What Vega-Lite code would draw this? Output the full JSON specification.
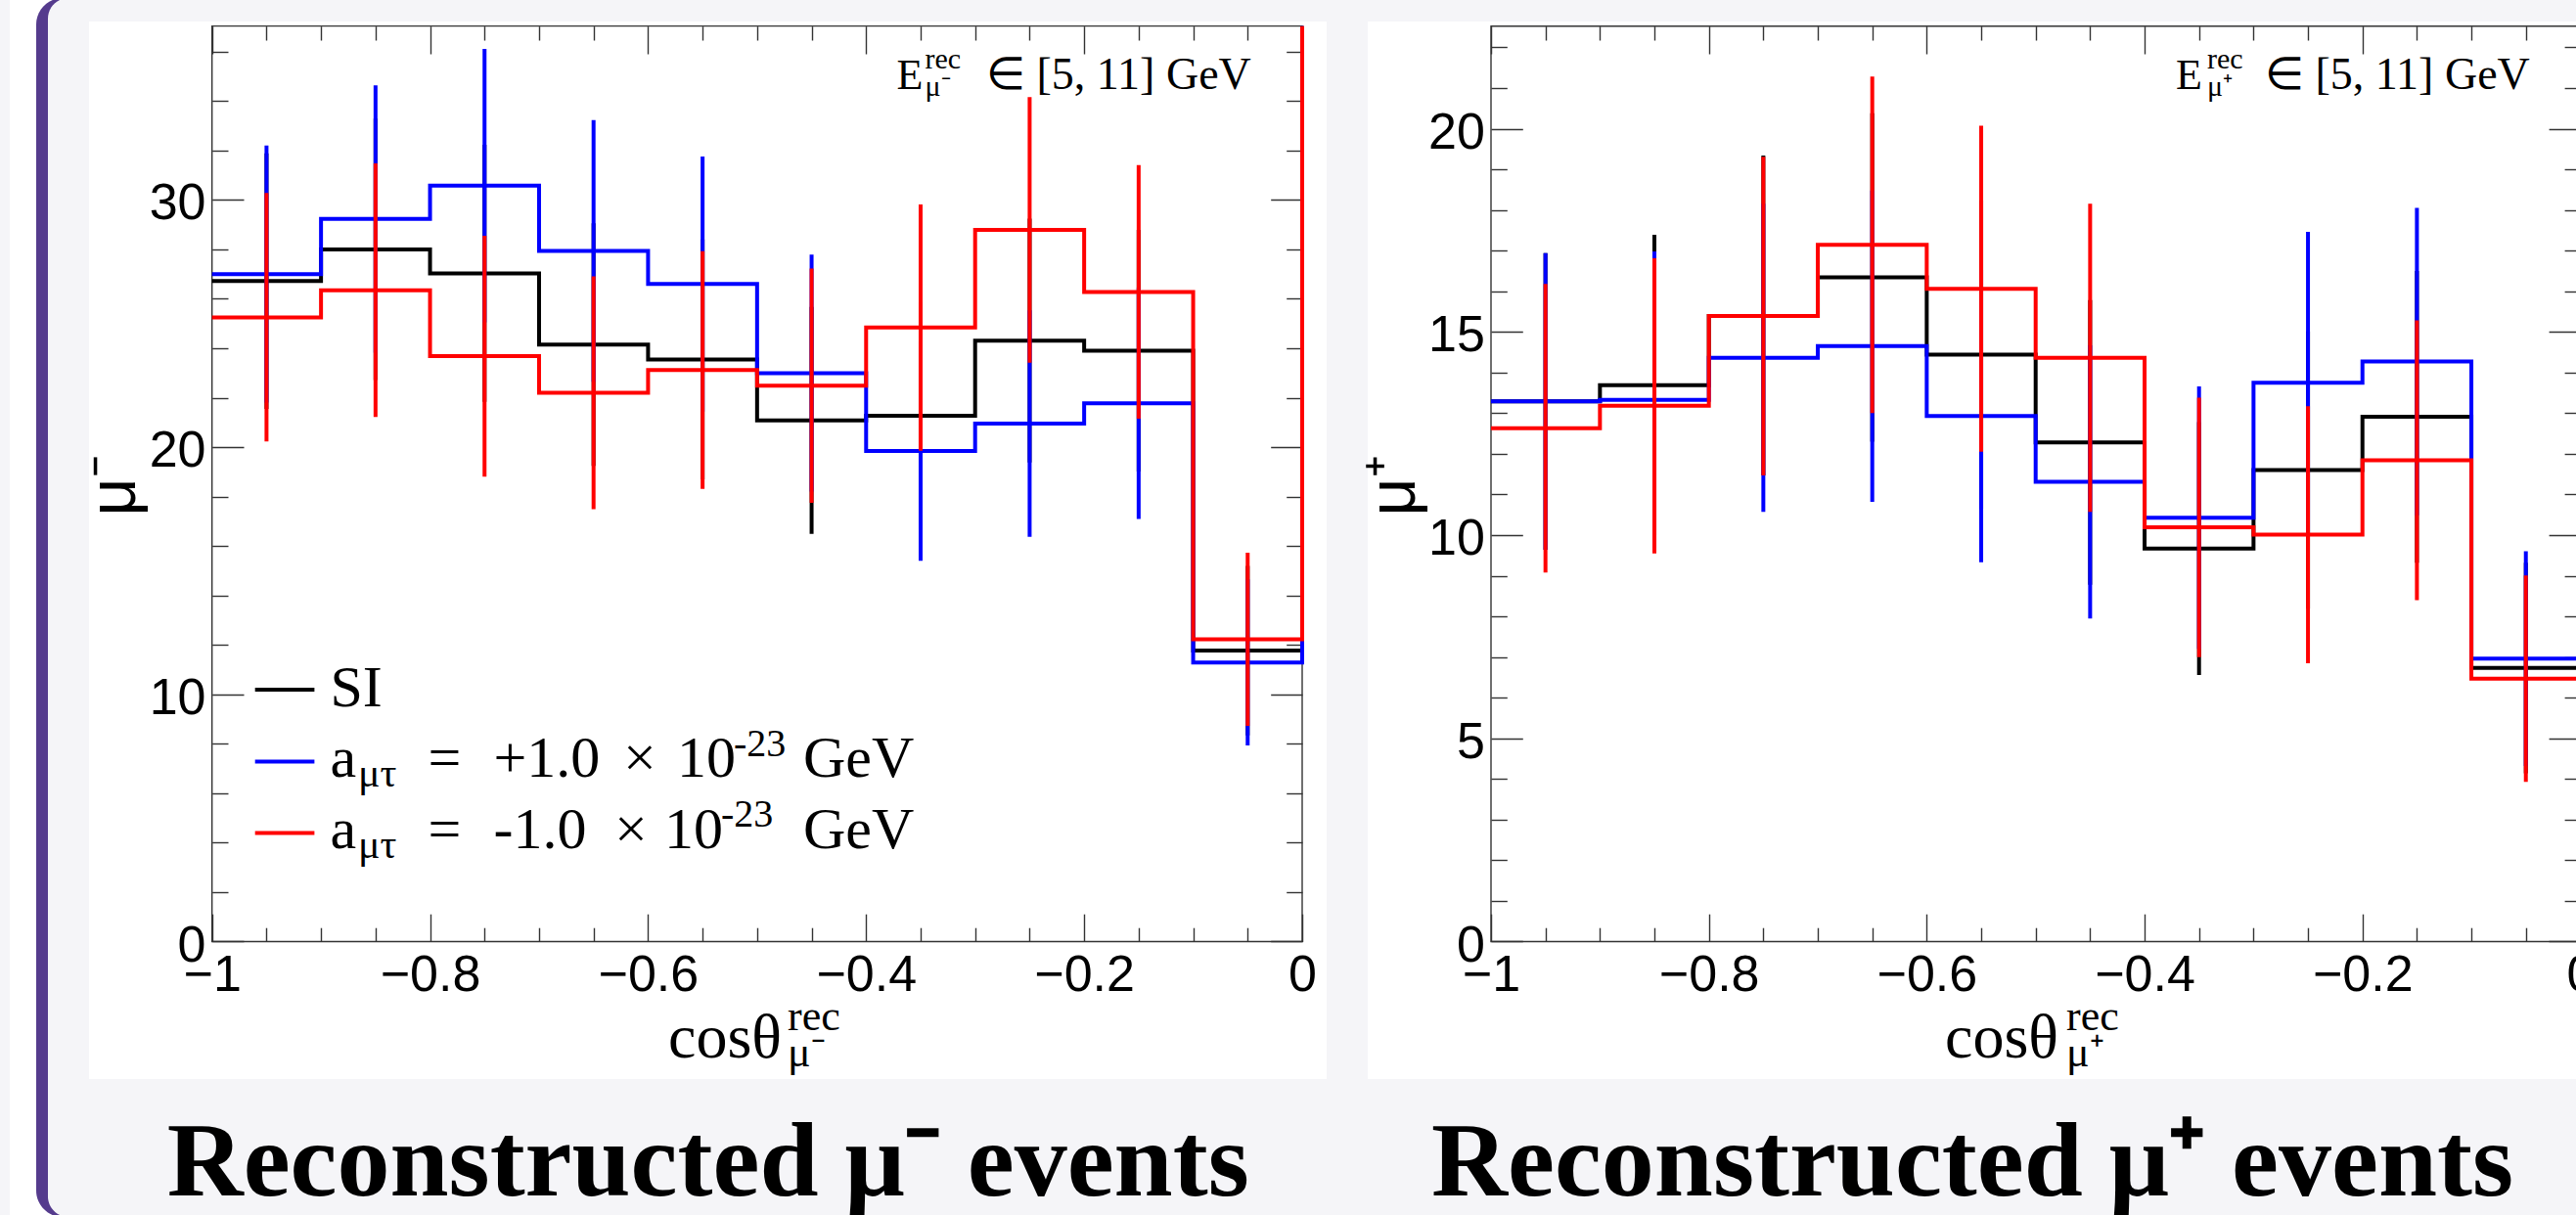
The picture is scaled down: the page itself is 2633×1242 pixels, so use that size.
{
"$schema": "https://vega.github.io/schema/vega-lite/v6.json",
"autosize": {"type": "none"},
"padding": {"left": 91, "top": 22, "right": 2542, "bottom": 1220},
"background": "#f5f5f8",
"spacing": 42,
"bounds": "flush",
"config": {"view": {"stroke": null, "fill": "#ffffff"}},
"datasets": {
"L": [
{"s":"SI","x0":-1,"xc":-0.95,"v":26.72,"lo":21.55,"hi":31.89},
{"s":"SI","x0":-0.9,"xc":-0.85,"v":28.0,"lo":22.71,"hi":33.29},
{"s":"SI","x0":-0.8,"xc":-0.75,"v":27.03,"lo":21.83,"hi":32.23},
{"s":"SI","x0":-0.7,"xc":-0.65,"v":24.15,"lo":19.24,"hi":29.06},
{"s":"SI","x0":-0.6,"xc":-0.55,"v":23.55,"lo":18.70,"hi":28.40},
{"s":"SI","x0":-0.5,"xc":-0.45,"v":21.08,"lo":16.49,"hi":25.67},
{"s":"SI","x0":-0.4,"xc":-0.35,"v":21.27,"lo":16.66,"hi":25.88},
{"s":"SI","x0":-0.3,"xc":-0.25,"v":24.31,"lo":19.38,"hi":29.24},
{"s":"SI","x0":-0.2,"xc":-0.15,"v":23.9,"lo":19.01,"hi":28.79},
{"s":"SI","x0":-0.1,"xc":-0.05,"v":11.77,"lo":8.34,"hi":15.20},
{"s":"SI","x0":0,"v":37.03},
{"s":"plus","x0":-1,"xc":-0.95,"v":27.0,"lo":21.80,"hi":32.20},
{"s":"plus","x0":-0.9,"xc":-0.85,"v":29.23,"lo":23.82,"hi":34.64},
{"s":"plus","x0":-0.8,"xc":-0.75,"v":30.58,"lo":25.05,"hi":36.11},
{"s":"plus","x0":-0.7,"xc":-0.65,"v":27.94,"lo":22.65,"hi":33.23},
{"s":"plus","x0":-0.6,"xc":-0.55,"v":26.6,"lo":21.44,"hi":31.76},
{"s":"plus","x0":-0.5,"xc":-0.45,"v":22.99,"lo":18.20,"hi":27.79},
{"s":"plus","x0":-0.4,"xc":-0.35,"v":19.85,"lo":15.40,"hi":24.31},
{"s":"plus","x0":-0.3,"xc":-0.25,"v":20.95,"lo":16.37,"hi":25.53},
{"s":"plus","x0":-0.2,"xc":-0.15,"v":21.77,"lo":17.10,"hi":26.44},
{"s":"plus","x0":-0.1,"xc":-0.05,"v":11.29,"lo":7.93,"hi":14.65},
{"s":"plus","x0":0,"v":37.03},
{"s":"minus","x0":-1,"xc":-0.95,"v":25.25,"lo":20.23,"hi":30.28},
{"s":"minus","x0":-0.9,"xc":-0.85,"v":26.35,"lo":21.22,"hi":31.48},
{"s":"minus","x0":-0.8,"xc":-0.75,"v":23.68,"lo":18.81,"hi":28.55},
{"s":"minus","x0":-0.7,"xc":-0.65,"v":22.2,"lo":17.49,"hi":26.91},
{"s":"minus","x0":-0.6,"xc":-0.55,"v":23.12,"lo":18.31,"hi":27.93},
{"s":"minus","x0":-0.5,"xc":-0.45,"v":22.49,"lo":17.75,"hi":27.23},
{"s":"minus","x0":-0.4,"xc":-0.35,"v":24.84,"lo":19.86,"hi":29.82},
{"s":"minus","x0":-0.3,"xc":-0.25,"v":28.79,"lo":23.42,"hi":34.16},
{"s":"minus","x0":-0.2,"xc":-0.15,"v":26.28,"lo":21.15,"hi":31.41},
{"s":"minus","x0":-0.1,"xc":-0.05,"v":12.23,"lo":8.73,"hi":15.73},
{"s":"minus","x0":0,"v":37.03}
],
"R": [
{"s":"SI","x0":-1,"xc":-0.95,"v":13.29,"lo":9.64,"hi":16.94},
{"s":"SI","x0":-0.9,"xc":-0.85,"v":13.69,"lo":9.99,"hi":17.39},
{"s":"SI","x0":-0.8,"xc":-0.75,"v":15.39,"lo":11.47,"hi":19.34},
{"s":"SI","x0":-0.7,"xc":-0.65,"v":16.34,"lo":12.30,"hi":20.38},
{"s":"SI","x0":-0.6,"xc":-0.55,"v":14.44,"lo":10.64,"hi":18.24},
{"s":"SI","x0":-0.5,"xc":-0.45,"v":12.28,"lo":8.78,"hi":15.78},
{"s":"SI","x0":-0.4,"xc":-0.35,"v":9.67,"lo":6.56,"hi":12.78},
{"s":"SI","x0":-0.3,"xc":-0.25,"v":11.6,"lo":8.19,"hi":15.01},
{"s":"SI","x0":-0.2,"xc":-0.15,"v":12.91,"lo":9.32,"hi":16.50},
{"s":"SI","x0":-0.1,"xc":-0.05,"v":6.73,"lo":4.14,"hi":9.32},
{"s":"SI","x0":0,"v":22.52},
{"s":"plus","x0":-1,"xc":-0.95,"v":13.29,"lo":9.64,"hi":16.94},
{"s":"plus","x0":-0.9,"xc":-0.85,"v":13.33,"lo":9.68,"hi":16.98},
{"s":"plus","x0":-0.8,"xc":-0.75,"v":14.36,"lo":10.57,"hi":18.15},
{"s":"plus","x0":-0.7,"xc":-0.65,"v":14.65,"lo":10.82,"hi":18.48},
{"s":"plus","x0":-0.6,"xc":-0.55,"v":12.93,"lo":9.33,"hi":16.53},
{"s":"plus","x0":-0.5,"xc":-0.45,"v":11.31,"lo":7.95,"hi":14.67},
{"s":"plus","x0":-0.4,"xc":-0.35,"v":10.43,"lo":7.20,"hi":13.66},
{"s":"plus","x0":-0.3,"xc":-0.25,"v":13.75,"lo":10.04,"hi":17.46},
{"s":"plus","x0":-0.2,"xc":-0.15,"v":14.27,"lo":10.49,"hi":18.05},
{"s":"plus","x0":-0.1,"xc":-0.05,"v":6.96,"lo":4.32,"hi":9.60},
{"s":"plus","x0":0,"v":22.52},
{"s":"minus","x0":-1,"xc":-0.95,"v":12.63,"lo":9.08,"hi":16.18},
{"s":"minus","x0":-0.9,"xc":-0.85,"v":13.18,"lo":9.55,"hi":16.81},
{"s":"minus","x0":-0.8,"xc":-0.75,"v":15.39,"lo":11.47,"hi":19.31},
{"s":"minus","x0":-0.7,"xc":-0.65,"v":17.14,"lo":13.00,"hi":21.28},
{"s":"minus","x0":-0.6,"xc":-0.55,"v":16.06,"lo":12.05,"hi":20.07},
{"s":"minus","x0":-0.5,"xc":-0.45,"v":14.36,"lo":10.57,"hi":18.15},
{"s":"minus","x0":-0.4,"xc":-0.35,"v":10.19,"lo":7.00,"hi":13.38},
{"s":"minus","x0":-0.3,"xc":-0.25,"v":10.01,"lo":6.85,"hi":13.17},
{"s":"minus","x0":-0.2,"xc":-0.15,"v":11.84,"lo":8.40,"hi":15.28},
{"s":"minus","x0":-0.1,"xc":-0.05,"v":6.47,"lo":3.93,"hi":9.01},
{"s":"minus","x0":0,"v":22.52}
]
},
"hconcat": [
{
"width": 1265, "height": 1081,
"resolve": {"axis": {"x": "independent", "y": "independent"}},
"layer": [
{"data":{"values":[{}]},"mark":{"type":"rect","fill":"#ffffff"},
 "encoding":{
  "x":{"datum":-1.18552,"type":"quantitative","scale":{"domain":[-1.1128,0.02244],"nice":false,"zero":false},
   "axis":{"orient":"bottom","offset":-140.5,"values":[-1,-0.8,-0.6,-0.4,-0.2,0],"format":"~g","domain":false,"grid":false,"ticks":true,"tickSize":-28.3,"tickColor":"#333333","tickWidth":1.4,"labels":true,"labelFont":"Liberation Sans","labelFontSize":52,"labelColor":"#000000","labelPadding":37.6,"labelFlush":false,"labelOverlap":false,"labelBound":false,"title":null}},
  "x2":{"datum":-1.1128},
  "y":{"datum":38.483,"type":"quantitative","scale":{"domain":[-5.56,37.218],"nice":false,"zero":false},
   "axis":{"orient":"left","offset":-125.7,"values":[0,10,20,30],"format":"d","domain":false,"grid":false,"ticks":true,"tickSize":-32.3,"tickColor":"#333333","tickWidth":1.4,"labels":true,"labelFont":"Liberation Sans","labelFontSize":52,"labelColor":"#000000","labelPadding":39,"labelOffset":3.6,"labelOverlap":false,"labelBound":false,"labelFlush":false,"title":"μ⁻","titleFont":"Liberation Sans","titleFontSize":68,"titleFontWeight":"normal","titleColor":"#000000","titleAngle":270,"titleAlign":"center","titleBaseline":"alphabetic","titleX":-79,"titleY":474}},
  "y2":{"datum":-11.455}}},
{"data":{"values":[{}]},"mark":{"type":"rect","fill":"#553b8d","cornerRadiusTopLeft":36,"cornerRadiusBottomLeft":36},
 "encoding":{
  "x":{"datum":-1.16127,"type":"quantitative",
   "axis":{"orient":"bottom","offset":-140.5,"values":[-0.95,-0.9,-0.85,-0.75,-0.7,-0.65,-0.55,-0.5,-0.45,-0.35,-0.3,-0.25,-0.15,-0.1,-0.05],"domain":false,"grid":false,"ticks":true,"tickSize":-14.3,"tickColor":"#333333","tickWidth":1.4,"labels":false,"title":null}},
  "x2":{"datum":-1.1128},
  "y":{"datum":38.167,"type":"quantitative",
   "axis":{"orient":"left","offset":-125.7,"values":[2,4,6,8,12,14,16,18,22,24,26,28,32,34,36],"domain":false,"grid":false,"ticks":true,"tickSize":-16.3,"tickColor":"#333333","tickWidth":1.4,"labels":false,"title":null}},
  "y2":{"datum":-11.14}}},
{"data":{"values":[{}]},"mark":{"type":"rect","fill":"#f5f5f8","cornerRadiusTopLeft":30,"cornerRadiusBottomLeft":30},
 "encoding":{
  "x":{"datum":-1.1505,"type":"quantitative",
   "axis":{"orient":"top","offset":-4.7,"values":[-1,-0.8,-0.6,-0.4,-0.2,0],"domain":false,"grid":false,"ticks":true,"tickSize":-28.3,"tickColor":"#333333","tickWidth":1.4,"labels":false,"title":null}},
  "x2":{"datum":-1.1128},
  "y":{"datum":38.167,"type":"quantitative",
   "axis":{"orient":"right","offset":-25,"values":[0,10,20,30],"domain":false,"grid":false,"ticks":true,"tickSize":-32.3,"tickColor":"#333333","tickWidth":1.4,"labels":false,"title":null}},
  "y2":{"datum":-11.14}}},
{"data":{"values":[{}]},"mark":{"type":"rect","filled":false,"stroke":"#333333","strokeWidth":1.4},
 "encoding":{
  "x":{"datum":-1,"type":"quantitative",
   "axis":{"orient":"top","offset":-4.7,"values":[-0.95,-0.9,-0.85,-0.75,-0.7,-0.65,-0.55,-0.5,-0.45,-0.35,-0.3,-0.25,-0.15,-0.1,-0.05],"domain":false,"grid":false,"ticks":true,"tickSize":-14.3,"tickColor":"#333333","tickWidth":1.4,"labels":false,"title":null}},
  "x2":{"datum":0},
  "y":{"datum":0,"type":"quantitative",
   "axis":{"orient":"right","offset":-25,"values":[2,4,6,8,12,14,16,18,22,24,26,28,32,34,36],"domain":false,"grid":false,"ticks":true,"tickSize":-16.3,"tickColor":"#333333","tickWidth":1.4,"labels":false,"title":null}},
  "y2":{"datum":37.033}}},
{"data":{"name":"L"},"transform":[{"filter":"datum.s === 'SI'"}],"mark":{"type":"line","interpolate":"step-after","stroke":"#000000","strokeWidth":4},
 "encoding":{"x":{"field":"x0","type":"quantitative","axis":null},"y":{"field":"v","type":"quantitative","axis":null}}},
{"data":{"name":"L"},"transform":[{"filter":"datum.s === 'SI' && isValid(datum.xc)"}],"mark":{"type":"rule","stroke":"#000000","strokeWidth":4},
 "encoding":{"x":{"field":"xc","type":"quantitative","axis":null},"y":{"field":"lo","type":"quantitative","axis":null},"y2":{"field":"hi"}}},
{"data":{"name":"L"},"transform":[{"filter":"datum.s === 'plus'"}],"mark":{"type":"line","interpolate":"step-after","stroke":"#0000ff","strokeWidth":4},
 "encoding":{"x":{"field":"x0","type":"quantitative","axis":null},"y":{"field":"v","type":"quantitative","axis":null}}},
{"data":{"name":"L"},"transform":[{"filter":"datum.s === 'plus' && isValid(datum.xc)"}],"mark":{"type":"rule","stroke":"#0000ff","strokeWidth":4},
 "encoding":{"x":{"field":"xc","type":"quantitative","axis":null},"y":{"field":"lo","type":"quantitative","axis":null},"y2":{"field":"hi"}}},
{"data":{"name":"L"},"transform":[{"filter":"datum.s === 'minus'"}],"mark":{"type":"line","interpolate":"step-after","stroke":"#ff0000","strokeWidth":4},
 "encoding":{"x":{"field":"x0","type":"quantitative","axis":null},"y":{"field":"v","type":"quantitative","axis":null}}},
{"data":{"name":"L"},"transform":[{"filter":"datum.s === 'minus' && isValid(datum.xc)"}],"mark":{"type":"rule","stroke":"#ff0000","strokeWidth":4},
 "encoding":{"x":{"field":"xc","type":"quantitative","axis":null},"y":{"field":"lo","type":"quantitative","axis":null},"y2":{"field":"hi"}}},
{"data":{"values":[{}]},"mark":{"type":"rule","stroke":"#000000","strokeWidth":4},
 "encoding":{"x":{"datum":-0.96051,"axis":null},"x2":{"datum":-0.90604},"y":{"datum":10.19,"axis":null}}},
{"data":{"values":[{}]},"mark":{"type":"rule","stroke":"#0000ff","strokeWidth":4},
 "encoding":{"x":{"datum":-0.96051,"axis":null},"x2":{"datum":-0.90604},"y":{"datum":7.2774,"axis":null}}},
{"data":{"values":[{}]},"mark":{"type":"rule","stroke":"#ff0000","strokeWidth":4},
 "encoding":{"x":{"datum":-0.96051,"axis":null},"x2":{"datum":-0.90604},"y":{"datum":4.3926,"axis":null}}},
{"data":{"values":[{}]},"mark":{"type":"text","text":"SI","font":"Liberation Serif","fontSize":60,"align":"left","baseline":"alphabetic","fill":"#000000"},
 "encoding":{"x":{"datum":-0.89159,"axis":null},"y":{"datum":9.5014,"axis":null}}},
{"data":{"values":[{}]},"mark":{"type":"text","text":"a","font":"Liberation Serif","fontSize":60,"align":"left","baseline":"alphabetic","fill":"#000000"},
 "encoding":{"x":{"datum":-0.89159,"axis":null},"y":{"datum":6.6482,"axis":null}}},
{"data":{"values":[{}]},"mark":{"type":"text","text":"μτ","font":"Liberation Serif","fontSize":42,"align":"left","baseline":"alphabetic","fill":"#000000"},
 "encoding":{"x":{"datum":-0.86601,"axis":null},"y":{"datum":6.2525,"axis":null}}},
{"data":{"values":[{}]},"mark":{"type":"text","text":"=","font":"Liberation Serif","fontSize":60,"align":"left","baseline":"alphabetic","fill":"#000000"},
 "encoding":{"x":{"datum":-0.80185,"axis":null},"y":{"datum":6.6482,"axis":null}}},
{"data":{"values":[{}]},"mark":{"type":"text","text":"+1.0","font":"Liberation Serif","fontSize":60,"align":"left","baseline":"alphabetic","fill":"#000000"},
 "encoding":{"x":{"datum":-0.74172,"axis":null},"y":{"datum":6.6482,"axis":null}}},
{"data":{"values":[{}]},"mark":{"type":"text","text":"×","font":"Liberation Serif","fontSize":60,"align":"center","baseline":"alphabetic","fill":"#000000"},
 "encoding":{"x":{"datum":-0.60756,"axis":null},"y":{"datum":6.6482,"axis":null}}},
{"data":{"values":[{}]},"mark":{"type":"text","text":"10","font":"Liberation Serif","fontSize":60,"align":"left","baseline":"alphabetic","fill":"#000000"},
 "encoding":{"x":{"datum":-0.57345,"axis":null},"y":{"datum":6.6482,"axis":null}}},
{"data":{"values":[{}]},"mark":{"type":"text","text":"-23","font":"Liberation Serif","fontSize":40,"align":"left","baseline":"alphabetic","fill":"#000000"},
 "encoding":{"x":{"datum":-0.5214,"axis":null},"y":{"datum":7.499,"axis":null}}},
{"data":{"values":[{}]},"mark":{"type":"text","text":"GeV","font":"Liberation Serif","fontSize":60,"align":"left","baseline":"alphabetic","fill":"#000000"},
 "encoding":{"x":{"datum":-0.45769,"axis":null},"y":{"datum":6.6482,"axis":null}}},
{"data":{"values":[{}]},"mark":{"type":"text","text":"a","font":"Liberation Serif","fontSize":60,"align":"left","baseline":"alphabetic","fill":"#000000"},
 "encoding":{"x":{"datum":-0.89159,"axis":null},"y":{"datum":3.7792,"axis":null}}},
{"data":{"values":[{}]},"mark":{"type":"text","text":"μτ","font":"Liberation Serif","fontSize":42,"align":"left","baseline":"alphabetic","fill":"#000000"},
 "encoding":{"x":{"datum":-0.86601,"axis":null},"y":{"datum":3.3835,"axis":null}}},
{"data":{"values":[{}]},"mark":{"type":"text","text":"=","font":"Liberation Serif","fontSize":60,"align":"left","baseline":"alphabetic","fill":"#000000"},
 "encoding":{"x":{"datum":-0.80185,"axis":null},"y":{"datum":3.7792,"axis":null}}},
{"data":{"values":[{}]},"mark":{"type":"text","text":"-1.0","font":"Liberation Serif","fontSize":60,"align":"left","baseline":"alphabetic","fill":"#000000"},
 "encoding":{"x":{"datum":-0.74172,"axis":null},"y":{"datum":3.7792,"axis":null}}},
{"data":{"values":[{}]},"mark":{"type":"text","text":"×","font":"Liberation Serif","fontSize":60,"align":"center","baseline":"alphabetic","fill":"#000000"},
 "encoding":{"x":{"datum":-0.61563,"axis":null},"y":{"datum":3.7792,"axis":null}}},
{"data":{"values":[{}]},"mark":{"type":"text","text":"10","font":"Liberation Serif","fontSize":60,"align":"left","baseline":"alphabetic","fill":"#000000"},
 "encoding":{"x":{"datum":-0.58512,"axis":null},"y":{"datum":3.7792,"axis":null}}},
{"data":{"values":[{}]},"mark":{"type":"text","text":"-23","font":"Liberation Serif","fontSize":40,"align":"left","baseline":"alphabetic","fill":"#000000"},
 "encoding":{"x":{"datum":-0.53307,"axis":null},"y":{"datum":4.63,"axis":null}}},
{"data":{"values":[{}]},"mark":{"type":"text","text":"GeV","font":"Liberation Serif","fontSize":60,"align":"left","baseline":"alphabetic","fill":"#000000"},
 "encoding":{"x":{"datum":-0.45769,"axis":null},"y":{"datum":3.7792,"axis":null}}},
{"data":{"values":[{}]},"mark":{"type":"text","text":"E","font":"Liberation Serif","fontSize":44,"align":"left","baseline":"alphabetic","fill":"#000000"},
 "encoding":{"x":{"datum":-0.37198,"axis":null},"y":{"datum":34.5,"axis":null}}},
{"data":{"values":[{}]},"mark":{"type":"text","text":"rec","font":"Liberation Serif","fontSize":30,"align":"left","baseline":"alphabetic","fill":"#000000"},
 "encoding":{"x":{"datum":-0.34596,"axis":null},"y":{"datum":35.319,"axis":null}}},
{"data":{"values":[{}]},"mark":{"type":"text","text":"μ⁻","font":"Liberation Serif","fontSize":30,"align":"left","baseline":"alphabetic","fill":"#000000"},
 "encoding":{"x":{"datum":-0.34596,"axis":null},"y":{"datum":34.21,"axis":null}}},
{"data":{"values":[{}]},"mark":{"type":"text","text":"∈ [5, 11] GeV","font":"Liberation Serif","fontSize":46,"align":"left","baseline":"alphabetic","fill":"#000000"},
 "encoding":{"x":{"datum":-0.28987,"axis":null},"y":{"datum":34.5,"axis":null}}},
{"data":{"values":[{}]},"mark":{"type":"text","text":"cosθ","font":"Liberation Serif","fontSize":64,"align":"left","baseline":"alphabetic","fill":"#000000"},
 "encoding":{"x":{"datum":-0.58153,"axis":null},"y":{"datum":-4.6894,"axis":null}}},
{"data":{"values":[{}]},"mark":{"type":"text","text":"rec","font":"Liberation Serif","fontSize":44,"align":"left","baseline":"alphabetic","fill":"#000000"},
 "encoding":{"x":{"datum":-0.47205,"axis":null},"y":{"datum":-3.5813,"axis":null}}},
{"data":{"values":[{}]},"mark":{"type":"text","text":"μ⁻","font":"Liberation Serif","fontSize":44,"align":"left","baseline":"alphabetic","fill":"#000000"},
 "encoding":{"x":{"datum":-0.47205,"axis":null},"y":{"datum":-5.0455,"axis":null}}},
{"data":{"values":[{}]},"mark":{"type":"text","text":"Reconstructed μ⁻ events","font":"Liberation Serif","fontSize":108,"fontWeight":"bold","align":"left","baseline":"alphabetic","fill":"#000000"},
 "encoding":{"x":{"datum":-1.04128,"axis":null},"y":{"datum":-10.257,"axis":null}}}
]
},
{
"width": 1264, "height": 1081,
"resolve": {"axis": {"x": "independent", "y": "independent"}},
"layer": [
{"data":{"values":[{}]},"mark":{"type":"rect","filled":false,"stroke":"#333333","strokeWidth":1.4},
 "encoding":{
  "x":{"datum":-1,"type":"quantitative","scale":{"domain":[-1.11317,0.02209],"nice":false,"zero":false},
   "axis":{"orient":"bottom","offset":-140.5,"values":[-1,-0.8,-0.6,-0.4,-0.2,0],"format":"~g","domain":false,"grid":false,"ticks":true,"tickSize":-28.3,"tickColor":"#333333","tickWidth":1.4,"labels":true,"labelFont":"Liberation Sans","labelFontSize":52,"labelColor":"#000000","labelPadding":37.6,"labelFlush":false,"labelOverlap":false,"labelBound":false,"title":null}},
  "x2":{"datum":0},
  "y":{"datum":0,"type":"quantitative","scale":{"domain":[-3.3815,22.6354],"nice":false,"zero":false},
   "axis":{"orient":"left","offset":-126,"values":[0,5,10,15,20],"format":"d","domain":false,"grid":false,"ticks":true,"tickSize":-32.3,"tickColor":"#333333","tickWidth":1.4,"labels":true,"labelFont":"Liberation Sans","labelFontSize":52,"labelColor":"#000000","labelPadding":39,"labelOffset":3.6,"labelOverlap":false,"labelBound":false,"labelFlush":false,"title":"μ⁺","titleFont":"Liberation Sans","titleFontSize":68,"titleFontWeight":"normal","titleColor":"#000000","titleAngle":270,"titleAlign":"center","titleBaseline":"alphabetic","titleX":-79,"titleY":474}},
  "y2":{"datum":22.522}}},
{"data":{"name":"R"},"transform":[{"filter":"datum.s === 'SI'"}],"mark":{"type":"line","interpolate":"step-after","stroke":"#000000","strokeWidth":4},
 "encoding":{
  "x":{"field":"x0","type":"quantitative",
   "axis":{"orient":"bottom","offset":-140.5,"values":[-0.95,-0.9,-0.85,-0.75,-0.7,-0.65,-0.55,-0.5,-0.45,-0.35,-0.3,-0.25,-0.15,-0.1,-0.05],"domain":false,"grid":false,"ticks":true,"tickSize":-14.3,"tickColor":"#333333","tickWidth":1.4,"labels":false,"title":null}},
  "y":{"field":"v","type":"quantitative",
   "axis":{"orient":"left","offset":-126,"values":[1,2,3,4,6,7,8,9,11,12,13,14,16,17,18,19,21,22],"domain":false,"grid":false,"ticks":true,"tickSize":-16.3,"tickColor":"#333333","tickWidth":1.4,"labels":false,"title":null}}}},
{"data":{"name":"R"},"transform":[{"filter":"datum.s === 'SI' && isValid(datum.xc)"}],"mark":{"type":"rule","stroke":"#000000","strokeWidth":4},
 "encoding":{
  "x":{"field":"xc","type":"quantitative",
   "axis":{"orient":"top","offset":-4.7,"values":[-1,-0.8,-0.6,-0.4,-0.2,0],"domain":false,"grid":false,"ticks":true,"tickSize":-28.3,"tickColor":"#333333","tickWidth":1.4,"labels":false,"title":null}},
  "y":{"field":"lo","type":"quantitative",
   "axis":{"orient":"right","offset":-24.6,"values":[0,5,10,15,20],"domain":false,"grid":false,"ticks":true,"tickSize":-32.3,"tickColor":"#333333","tickWidth":1.4,"labels":false,"title":null}},
  "y2":{"field":"hi"}}},
{"data":{"name":"R"},"transform":[{"filter":"datum.s === 'plus'"}],"mark":{"type":"line","interpolate":"step-after","stroke":"#0000ff","strokeWidth":4},
 "encoding":{
  "x":{"field":"x0","type":"quantitative",
   "axis":{"orient":"top","offset":-4.7,"values":[-0.95,-0.9,-0.85,-0.75,-0.7,-0.65,-0.55,-0.5,-0.45,-0.35,-0.3,-0.25,-0.15,-0.1,-0.05],"domain":false,"grid":false,"ticks":true,"tickSize":-14.3,"tickColor":"#333333","tickWidth":1.4,"labels":false,"title":null}},
  "y":{"field":"v","type":"quantitative",
   "axis":{"orient":"right","offset":-24.6,"values":[1,2,3,4,6,7,8,9,11,12,13,14,16,17,18,19,21,22],"domain":false,"grid":false,"ticks":true,"tickSize":-16.3,"tickColor":"#333333","tickWidth":1.4,"labels":false,"title":null}}}},
{"data":{"name":"R"},"transform":[{"filter":"datum.s === 'plus' && isValid(datum.xc)"}],"mark":{"type":"rule","stroke":"#0000ff","strokeWidth":4},
 "encoding":{"x":{"field":"xc","type":"quantitative","axis":null},"y":{"field":"lo","type":"quantitative","axis":null},"y2":{"field":"hi"}}},
{"data":{"name":"R"},"transform":[{"filter":"datum.s === 'minus'"}],"mark":{"type":"line","interpolate":"step-after","stroke":"#ff0000","strokeWidth":4},
 "encoding":{"x":{"field":"x0","type":"quantitative","axis":null},"y":{"field":"v","type":"quantitative","axis":null}}},
{"data":{"name":"R"},"transform":[{"filter":"datum.s === 'minus' && isValid(datum.xc)"}],"mark":{"type":"rule","stroke":"#ff0000","strokeWidth":4},
 "encoding":{"x":{"field":"xc","type":"quantitative","axis":null},"y":{"field":"lo","type":"quantitative","axis":null},"y2":{"field":"hi"}}},
{"data":{"values":[{}]},"mark":{"type":"text","text":"E","font":"Liberation Serif","fontSize":44,"align":"left","baseline":"alphabetic","fill":"#000000"},
 "encoding":{"x":{"datum":-0.3713,"axis":null},"y":{"datum":20.982,"axis":null}}},
{"data":{"values":[{}]},"mark":{"type":"text","text":"rec","font":"Liberation Serif","fontSize":30,"align":"left","baseline":"alphabetic","fill":"#000000"},
 "encoding":{"x":{"datum":-0.34256,"axis":null},"y":{"datum":21.48,"axis":null}}},
{"data":{"values":[{}]},"mark":{"type":"text","text":"μ⁺","font":"Liberation Serif","fontSize":30,"align":"left","baseline":"alphabetic","fill":"#000000"},
 "encoding":{"x":{"datum":-0.34256,"axis":null},"y":{"datum":20.806,"axis":null}}},
{"data":{"values":[{}]},"mark":{"type":"text","text":"∈ [5, 11] GeV","font":"Liberation Serif","fontSize":46,"align":"left","baseline":"alphabetic","fill":"#000000"},
 "encoding":{"x":{"datum":-0.28956,"axis":null},"y":{"datum":20.982,"axis":null}}},
{"data":{"values":[{}]},"mark":{"type":"text","text":"cosθ","font":"Liberation Serif","fontSize":64,"align":"left","baseline":"alphabetic","fill":"#000000"},
 "encoding":{"x":{"datum":-0.58326,"axis":null},"y":{"datum":-2.852,"axis":null}}},
{"data":{"values":[{}]},"mark":{"type":"text","text":"rec","font":"Liberation Serif","fontSize":44,"align":"left","baseline":"alphabetic","fill":"#000000"},
 "encoding":{"x":{"datum":-0.47189,"axis":null},"y":{"datum":-2.1781,"axis":null}}},
{"data":{"values":[{}]},"mark":{"type":"text","text":"μ⁺","font":"Liberation Serif","fontSize":44,"align":"left","baseline":"alphabetic","fill":"#000000"},
 "encoding":{"x":{"datum":-0.47189,"axis":null},"y":{"datum":-3.0686,"axis":null}}},
{"data":{"values":[{}]},"mark":{"type":"text","text":"Reconstructed μ⁺ events","font":"Liberation Serif","fontSize":108,"fontWeight":"bold","align":"left","baseline":"alphabetic","fill":"#000000"},
 "encoding":{"x":{"datum":-1.05479,"axis":null},"y":{"datum":-6.2383,"axis":null}}}
]
}
]
}
